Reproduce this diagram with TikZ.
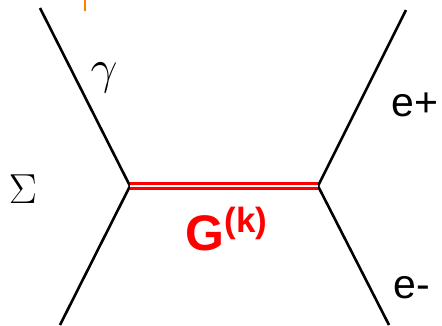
\RequirePackage{fix-cm}
\documentclass[tikz,border=0pt]{standalone}
\usepackage{fontspec}
\setsansfont{Liberation Sans}
\begin{document}
\begin{tikzpicture}[x=1pt, y=-1pt,
    fermion/.style={draw, black, line width=2.6pt},
    propagator/.style={draw=red, line width=2.8pt, double=white, double distance=2.8pt},
    lbl/.style={inner sep=0pt}]
    \useasboundingbox (0,0) rectangle (442,325);
    \coordinate (vl) at (130,186);
    \coordinate (vr) at (318,186);
    \coordinate (ul) at (40,8);
    \coordinate (dl) at (60,325);
    \coordinate (ur) at (406,10);
    \coordinate (dr) at (389,325);
    \coordinate (tick) at (85,0);
    \coordinate (tickend) at (85,11);

    \draw[fermion] (ul) -- (vl) -- (dl);
    \draw[fermion] (ur) -- (vr) -- (dr);
    \draw[propagator] (vl) -- (vr);
    \draw[orange, line width=1.2pt] (tick) -- (tickend);

    \node[lbl] (gam) at (104,78) {\fontsize{48}{48}\selectfont $\gamma$};
    \node[lbl] (sig) at (23,189) {\fontsize{42}{42}\selectfont $\Sigma$};
    \node[lbl] (ep) at (415,105) {\fontsize{41}{41}\selectfont\sffamily e+};
    \node[lbl] (em) at (412,288) {\fontsize{41}{41}\selectfont\sffamily e-};
    \node[lbl, red] (grav) at (227,229) {\fontsize{50}{50}\selectfont\sffamily\bfseries G\textsuperscript{(k)}};
\end{tikzpicture}
\end{document}
